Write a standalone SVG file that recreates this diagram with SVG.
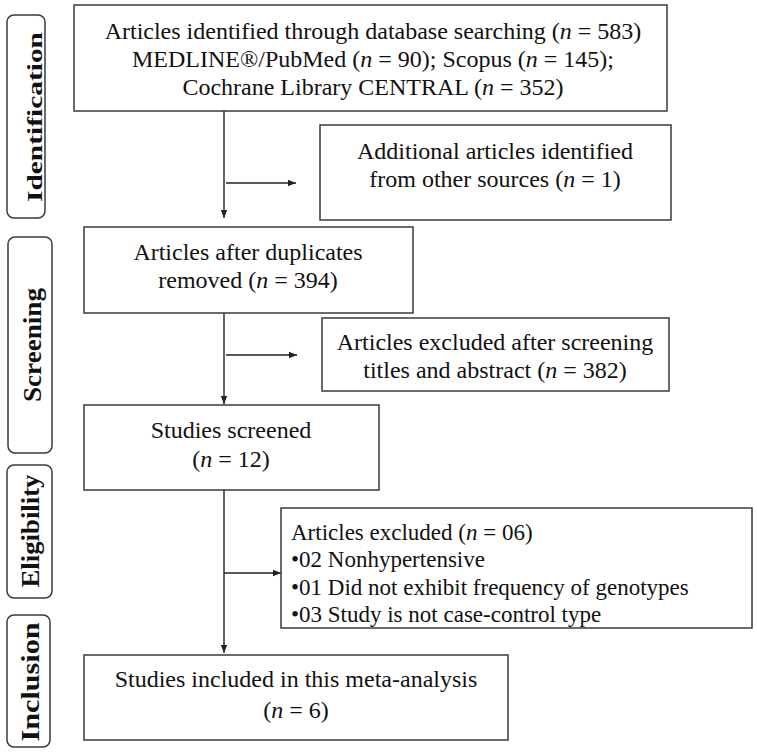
<svg xmlns="http://www.w3.org/2000/svg" width="757" height="755" viewBox="0 0 757 755">
<defs>
<style>
.box{fill:#fff;stroke:#3a3a3a;stroke-width:1.5}
.side{fill:#fff;stroke:#3a3a3a;stroke-width:1.5}
.t{font-family:"Liberation Serif","Times New Roman",serif;font-size:24px;fill:#111}
.tl{font-size:23px}
.tc{text-anchor:middle}
.s{font-family:"Liberation Serif","Times New Roman",serif;font-weight:bold;fill:#111;text-anchor:middle}
.c{stroke:#222;stroke-width:1.4;fill:none;marker-end:url(#ah)}
</style>
<marker id="ah" viewBox="0 0 10 10" refX="10" refY="5" markerWidth="8" markerHeight="8" markerUnits="userSpaceOnUse" orient="auto">
<path d="M0,1 L10,5 L0,9 z" fill="#222"/>
</marker>
</defs>
<rect width="757" height="755" fill="#fff"/>

<g id="side-identification">
<rect class="side" x="7" y="15" width="38" height="203" rx="7"/>
<text class="s" transform="translate(42,117) rotate(-90)" font-size="21" textLength="170" lengthAdjust="spacingAndGlyphs">Identification</text>
</g>
<g id="side-screening">
<rect class="side" x="8" y="237" width="44" height="216" rx="7"/>
<text class="s" transform="translate(41,345) rotate(-90)" font-size="26" textLength="114" lengthAdjust="spacingAndGlyphs">Screening</text>
</g>
<g id="side-eligibility">
<rect class="side" x="7" y="465" width="45" height="133" rx="7"/>
<text class="s" transform="translate(39,531) rotate(-90)" font-size="25" textLength="113" lengthAdjust="spacingAndGlyphs">Eligibility</text>
</g>
<g id="side-inclusion">
<rect class="side" x="7" y="615" width="43" height="132" rx="7"/>
<text class="s" transform="translate(39,682) rotate(-90)" font-size="26" textLength="119" lengthAdjust="spacingAndGlyphs">Inclusion</text>
</g>

<g id="connectors">
<line class="c" x1="224" y1="111" x2="224" y2="218"/>
<line class="c" x1="226" y1="183" x2="296" y2="183"/>
<line class="c" x1="224" y1="313" x2="224" y2="404"/>
<line class="c" x1="226" y1="355" x2="297" y2="355"/>
<line class="c" x1="224" y1="490" x2="224" y2="653"/>
<line class="c" x1="224" y1="573" x2="281" y2="573"/>
</g>

<g id="n-identified">
<rect class="box" x="74" y="5" width="593" height="106"/>
<text class="t tc" x="373" y="39">Articles identified through database searching (<tspan font-style="italic">n</tspan> = 583)</text>
<text class="t tc" x="373" y="67">MEDLINE®/PubMed (<tspan font-style="italic">n</tspan> = 90); Scopus (<tspan font-style="italic">n</tspan> = 145);</text>
<text class="t tc" x="373" y="95">Cochrane Library CENTRAL (<tspan font-style="italic">n</tspan> = 352)</text>
</g>
<g id="n-additional">
<rect class="box" x="320" y="125" width="351" height="95"/>
<text class="t tc" x="495" y="159">Additional articles identified</text>
<text class="t tc" x="495" y="187">from other sources (<tspan font-style="italic">n</tspan> = 1)</text>
</g>
<g id="n-duplicates">
<rect class="box" x="84" y="227" width="329" height="86"/>
<text class="t tc" x="248" y="260">Articles after duplicates</text>
<text class="t tc" x="248" y="288">removed (<tspan font-style="italic">n</tspan> = 394)</text>
</g>
<g id="n-excluded-screening">
<rect class="box" x="322" y="318" width="347" height="73"/>
<text class="t tc" x="495" y="350">Articles excluded after screening</text>
<text class="t tc" x="495" y="378">titles and abstract (<tspan font-style="italic">n</tspan> = 382)</text>
</g>
<g id="n-screened">
<rect class="box" x="84" y="405" width="295" height="85"/>
<text class="t tc" x="231" y="438">Studies screened</text>
<text class="t tc" x="231" y="467">(<tspan font-style="italic">n</tspan> = 12)</text>
</g>
<g id="n-excluded">
<rect class="box" x="281" y="508" width="471" height="120"/>
<text class="t tl" x="291" y="540">Articles excluded (<tspan font-style="italic">n</tspan> = 06)</text>
<text class="t tl" x="291" y="567">•02 Nonhypertensive</text>
<text class="t tl" x="291" y="595">•01 Did not exhibit frequency of genotypes</text>
<text class="t tl" x="291" y="622">•03 Study is not case-control type</text>
</g>
<g id="n-included">
<rect class="box" x="84" y="655" width="424" height="85"/>
<text class="t tc" x="296" y="687">Studies included in this meta-analysis</text>
<text class="t tc" x="296" y="718">(<tspan font-style="italic">n</tspan> = 6)</text>
</g>
</svg>
